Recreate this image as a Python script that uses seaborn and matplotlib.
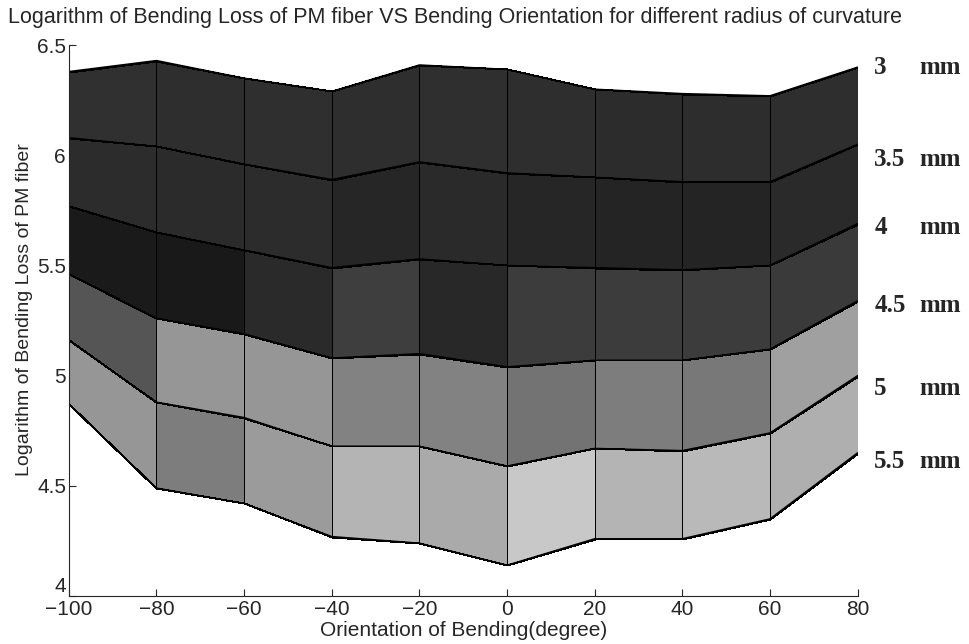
import numpy as np
import pandas as pd
import matplotlib
matplotlib.use('Agg')
import matplotlib.pyplot as plt
import seaborn as sns

# bending orientation (degree)
angle = [-100, -80, -60, -40, -20, 0, 20, 40, 60, 80]
radius = ['3', '3.5', '4', '4.5', '5', '5.5']

# log of bending loss for each radius of curvature
loss_3 = [6.38, 6.43, 6.35, 6.29, 6.41, 6.39, 6.30, 6.28, 6.27, 6.40]
loss_35 = [6.08, 6.04, 5.96, 5.89, 5.97, 5.92, 5.90, 5.88, 5.88, 6.05]
loss_4 = [5.77, 5.65, 5.57, 5.49, 5.53, 5.50, 5.49, 5.48, 5.50, 5.69]
loss_45 = [5.46, 5.26, 5.19, 5.08, 5.10, 5.04, 5.07, 5.07, 5.12, 5.34]
loss_5 = [5.16, 4.88, 4.81, 4.68, 4.68, 4.59, 4.67, 4.66, 4.74, 5.00]
loss_55 = [4.87, 4.49, 4.42, 4.27, 4.24, 4.14, 4.26, 4.26, 4.35, 4.65]

# grey level of each patch (0 black .. 255 white), one row per band
cell_shade = [
    [48, 46, 47, 46, 47, 46, 44, 45, 46],
    [44, 43, 44, 38, 42, 38, 36, 36, 42],
    [26, 25, 42, 62, 40, 60, 60, 60, 58],
    [85, 150, 150, 130, 130, 115, 125, 120, 160],
    [150, 125, 155, 180, 170, 200, 180, 185, 175],
]

# where the radius labels sit next to the surface
label_y = [6.40, 5.98, 5.67, 5.32, 4.94, 4.61]

sns.set_style('ticks')
plt.rcParams['font.family'] = ['Liberation Sans', 'DejaVu Sans']
plt.rcParams['xtick.direction'] = 'in'
plt.rcParams['ytick.direction'] = 'in'

losses = np.array([loss_3, loss_35, loss_4, loss_45, loss_5, loss_55])
X = np.tile(angle, (len(radius), 1))

fig = plt.figure(figsize=(9.69, 6.44), dpi=100)
ax = fig.add_axes([0.071, 0.0745, 0.814, 0.8555])

ax.pcolormesh(X, losses, np.array(cell_shade), cmap='gray', vmin=0, vmax=255,
              shading='flat', edgecolors='black', linewidth=0.7)

df = pd.DataFrame({
    'angle': np.tile(angle, len(radius)),
    'loss': losses.ravel(),
    'radius': np.repeat(radius, len(angle)),
})
sns.lineplot(data=df, x='angle', y='loss', units='radius', estimator=None,
             color='black', linewidth=1.0, legend=False, ax=ax)

for r, y in zip(radius, label_y):
    ax.text(83.8, y, r, fontsize=18, fontweight='bold', family='Liberation Serif',
            va='center', ha='left', clip_on=False)
    ax.text(94.0, y, 'mm', fontsize=18, fontweight='bold', family='Liberation Serif',
            va='center', ha='left', clip_on=False)

ax.set_xlim(-100, 80)
ax.set_ylim(4, 6.5)
ax.set_xticks(range(-100, 81, 20))
ax.set_yticks([4, 4.5, 5, 5.5, 6, 6.5])
ax.set_yticklabels(['4', '4.5', '5', '5.5', '6', '6.5'])
ax.tick_params(labelsize=15, length=5, width=0.8, pad=2)
ax.tick_params(axis='x', pad=3)
ax.get_yticklabels()[0].set_va('bottom')
sns.despine(ax=ax)
ax.set_title('Logarithm of Bending Loss of PM fiber VS Bending Orientation for different radius of curvature',
             fontsize=15.5, x=0.49, pad=16)
ax.set_xlabel('Orientation of Bending(degree)', fontsize=15, labelpad=1)
ax.set_ylabel('Logarithm of Bending Loss of PM fiber', fontsize=14, labelpad=3, y=0.52)

fig.savefig('out.png', dpi=100)
